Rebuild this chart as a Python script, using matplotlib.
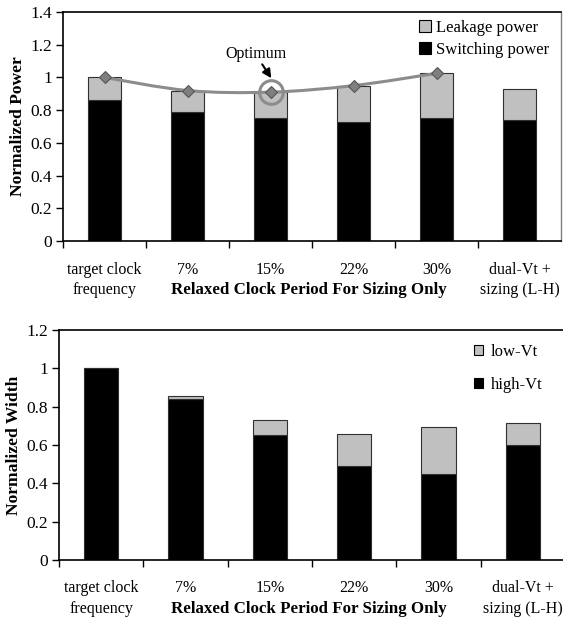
import numpy as np
import matplotlib
matplotlib.use("Agg")
import matplotlib.pyplot as plt
from matplotlib.path import Path
from matplotlib.patches import PathPatch
from matplotlib.transforms import offset_copy

plt.rcParams['font.family'] = ['Liberation Serif', 'DejaVu Serif']

categories = ["target clock\nfrequency", "7%", "15%", "22%", "30%", "dual-Vt +\nsizing (L-H)"]

# Top chart: power
switching_power = [0.86, 0.79, 0.75, 0.73, 0.75, 0.74]
leakage_power = [0.14, 0.13, 0.16, 0.22, 0.28, 0.19]
total_power_line = [1.0, 0.92, 0.91, 0.95, 1.025]

# Bottom chart: width
high_vt = [1.0, 0.84, 0.65, 0.49, 0.45, 0.60]
low_vt = [0.0, 0.015, 0.08, 0.17, 0.245, 0.115]

W, H = 563, 619
fig = plt.figure(figsize=(W / 100, H / 100), dpi=100)

ax1 = fig.add_axes([63 / W, 1 - 241 / H, 498 / W, 229 / H])
ax2 = fig.add_axes([59 / W, 1 - 560 / H, 506 / W, 230 / H])

n = len(categories)
x = np.arange(n) + 0.5
bw = 0.405
edge = '#303030'
gray = '#c0c0c0'

def style_axes(ax, ymax, ylabel):
    ax.set_xlim(0, n)
    ax.set_ylim(0, ymax)
    ax.set_xticks(np.arange(n))
    ax.set_xticklabels([])
    ax.tick_params(axis='x', direction='out', length=5, width=1, color='black')
    ax.tick_params(axis='y', direction='out', length=5, width=1, labelsize=12.5, pad=3)
    t1 = offset_copy(ax.get_xaxis_transform(), fig=fig, y=-28.5, units='dots')
    t2 = offset_copy(ax.get_xaxis_transform(), fig=fig, y=-49, units='dots')
    for c, lab in zip(x, categories):
        parts = lab.split("\n")
        ax.text(c, 0, parts[0], ha='center', va='center', fontsize=11.5, transform=t1)
        if len(parts) > 1:
            ax.text(c, 0, parts[1], ha='center', va='center', fontsize=11.5, transform=t2)
    t3 = offset_copy(ax.transAxes, fig=fig, y=-49, units='dots')
    ax.text(0.493, 0, "Relaxed Clock Period For Sizing Only", ha='center', va='center',
            fontsize=12.2, fontweight='bold', transform=t3)
    ax.set_ylabel(ylabel, fontsize=12.6, fontweight='bold', labelpad=3)
    for s in ['left', 'bottom', 'top']:
        ax.spines[s].set_linewidth(1.2)
        ax.spines[s].set_color('black')

# Top chart
ax1.bar(x, switching_power, bw, color='black', edgecolor=edge, linewidth=0.8, label='Switching power')
ax1.bar(x, leakage_power, bw, bottom=switching_power, color=gray, edgecolor=edge, linewidth=0.8,
        label='Leakage power')
style_axes(ax1, 1.4, "Normalized Power")
ax1.set_yticks([0, 0.2, 0.4, 0.6, 0.8, 1.0, 1.2, 1.4])
ax1.set_yticklabels(['0', '0.2', '0.4', '0.6', '0.8', '1', '1.2', '1.4'])
ax1.spines['right'].set_color('#808080')
ax1.spines['right'].set_linewidth(1.0)

# smoothed line (Catmull-Rom -> Bezier) through the line points
px = x[:len(total_power_line)]
py = np.array(total_power_line)
pts = np.column_stack([px, py])
verts = [tuple(pts[0])]
codes = [Path.MOVETO]
for i in range(len(pts) - 1):
    p0 = pts[i - 1] if i > 0 else pts[i]
    p1 = pts[i]
    p2 = pts[i + 1]
    p3 = pts[i + 2] if i + 2 < len(pts) else pts[i + 1]
    c1 = p1 + (p2 - p0) / 6.0
    c2 = p2 - (p3 - p1) / 6.0
    verts += [tuple(c1), tuple(c2), tuple(p2)]
    codes += [Path.CURVE4] * 3
ax1.add_patch(PathPatch(Path(verts, codes), facecolor='none', edgecolor='#8c8c8c', linewidth=2.2, zorder=3))
ax1.plot(px, py, linestyle='none', marker='D', markersize=6.5, markerfacecolor='#7f7f7f',
         markeredgecolor='#555555', markeredgewidth=0.8, zorder=4)

# optimum circle
ax1.plot([px[2]], [py[2]], marker='o', markersize=17, markerfacecolor='none',
         markeredgecolor='#8c8c8c', markeredgewidth=2.2, zorder=5)
ax1.text(px[2] - 0.18, py[2] + 0.235, "Optimum", ha='center', va='center', fontsize=11.5)
ax1.annotate("", xy=(px[2] + 0.01, py[2] + 0.085), xytext=(px[2] - 0.1, py[2] + 0.17),
             arrowprops=dict(arrowstyle='-|>', color='black', lw=1.5, mutation_scale=13,
                             shrinkA=0, shrinkB=0))

h, l = ax1.get_legend_handles_labels()
leg1 = ax1.legend(h[::-1], l[::-1], loc='upper left', bbox_to_anchor=(419 / W, 1 - 20 / H),
                  bbox_transform=fig.transFigure, frameon=False, fontsize=12,
                  handlelength=0.72, handleheight=0.72, handletextpad=0.3, labelspacing=0.35,
                  borderaxespad=0, borderpad=0)
for p in leg1.get_patches():
    p.set_edgecolor('black')
    p.set_linewidth(0.8)

# Bottom chart
ax2.bar(x, high_vt, bw, color='black', edgecolor=edge, linewidth=0.8, label='high-Vt')
ax2.bar(x, low_vt, bw, bottom=high_vt, color=gray, edgecolor=edge, linewidth=0.8, label='low-Vt')
style_axes(ax2, 1.2, "Normalized Width")
ax2.set_yticks([0, 0.2, 0.4, 0.6, 0.8, 1.0, 1.2])
ax2.set_yticklabels(['0', '0.2', '0.4', '0.6', '0.8', '1', '1.2'])
ax2.spines['right'].set_visible(False)

h, l = ax2.get_legend_handles_labels()
leg2 = ax2.legend(h[::-1], l[::-1], loc='upper left', bbox_to_anchor=(474 / W, 1 - 344 / H),
                  bbox_transform=fig.transFigure, frameon=False, fontsize=12,
                  handlelength=0.55, handleheight=0.55, handletextpad=0.45, labelspacing=1.0,
                  borderaxespad=0, borderpad=0)
for p in leg2.get_patches():
    p.set_edgecolor('black')
    p.set_linewidth(0.8)

fig.savefig("out.png", dpi=100)
